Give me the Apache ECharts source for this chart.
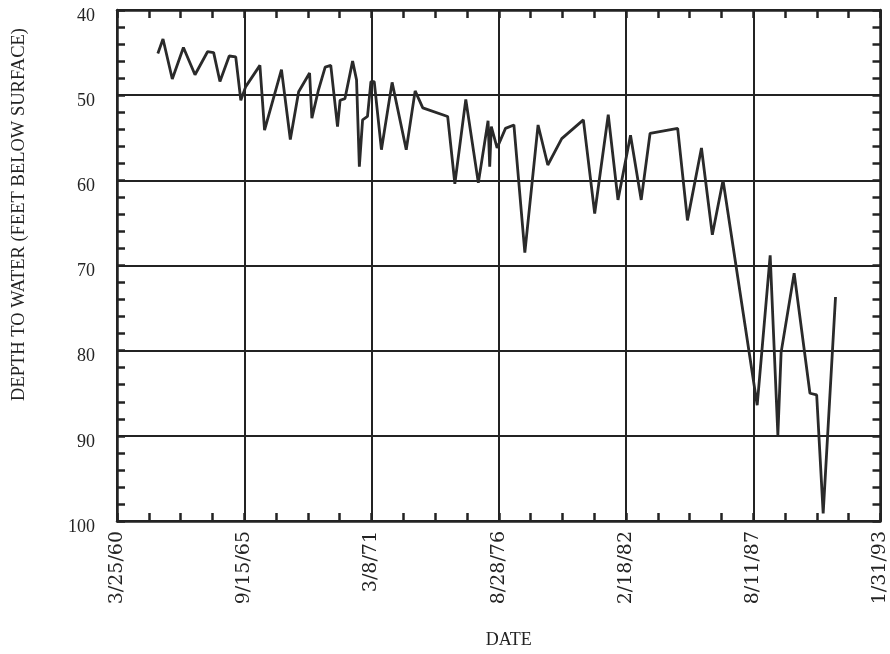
<!DOCTYPE html>
<html>
<head>
<meta charset="utf-8">
<script src="https://cdn.jsdelivr.net/npm/echarts@6/dist/echarts.min.js"></script>
<style>
  html, body { margin: 0; padding: 0; background: #ffffff; }
  #chart { width: 890px; height: 654px; }
</style>
</head>
<body>
<div id="chart"></div>
<script>
// Measurement dates of the well
const dates = [
  '1961-12-27','1962-03-18','1962-08-11','1963-02-02','1963-08-03','1964-02-16','1964-05-22','1964-08-29',
  '1965-01-22','1965-05-04','1965-07-23','1965-10-08','1966-05-19','1966-07-31','1967-04-23','1967-09-09',
  '1968-01-18','1968-07-08','1968-08-13','1968-11-24','1969-03-10','1969-06-06','1969-09-20','1969-10-30',
  '1970-01-15','1970-05-15','1970-07-16','1970-08-29','1970-10-19','1971-01-04','1971-02-27','1971-04-20',
  '1971-08-11','1972-01-26','1972-09-04','1973-01-22','1973-05-22','1974-06-17','1974-10-08','1975-03-29',
  '1975-10-12','1976-03-13','1976-04-08','1976-05-03','1976-08-02','1976-12-12','1977-04-23','1977-10-12',
  '1978-05-08','1978-10-08','1979-05-15','1980-04-19','1980-10-14','1981-05-15','1981-10-15','1982-04-30',
  '1982-10-15','1983-03-03','1984-05-10','1984-10-11','1985-05-19','1985-11-06','1986-04-23','1987-10-12',
  '1988-05-03','1988-09-01','1988-10-22','1989-05-15','1990-01-18','1990-05-04','1990-08-14','1991-02-24'
];

// Depth to water, feet below land surface
const depths = [
  45.1, 43.4, 48.1, 44.4, 47.6, 44.9, 45.0, 48.4,
  45.4, 45.5, 50.6, 49.0, 46.5, 54.1, 47.0, 55.2,
  49.6, 47.4, 52.7, 49.4, 46.7, 46.5, 53.7, 50.6,
  50.4, 46.0, 48.2, 58.4, 52.9, 52.5, 48.4, 48.4,
  56.4, 48.5, 56.4, 49.5, 51.5, 52.5, 60.4, 50.5,
  60.3, 53.0, 58.4, 53.7, 56.2, 53.9, 53.5, 68.5,
  53.5, 58.2, 55.1, 52.9, 63.9, 52.3, 62.3, 54.7,
  62.3, 54.5, 53.9, 64.7, 56.2, 66.4, 60.0, 86.4,
  68.8, 89.9, 80.2, 70.9, 85.0, 85.2, 99.1, 73.7
];

// Date axis: days counted from the first tick date, ticks every 2000 days
const axisStart = '1960-03-25';
const axisSpanDays = 12000;
const tickStepDays = 2000;

// Depth axis
const depthMin = 40;
const depthMax = 100;
const depthStep = 10;

const DAY = 86400000;
const t0 = Date.parse(axisStart + 'T00:00:00Z');
const toDays = s => (Date.parse(s + 'T00:00:00Z') - t0) / DAY;
const fmtDate = v => {
  const d = new Date(t0 + Math.round(v) * DAY);
  return (d.getUTCMonth() + 1) + '/' + d.getUTCDate() + '/' + String(d.getUTCFullYear()).slice(2);
};

const points = dates.map((s, i) => [toDays(s), depths[i]]);

const ink = '#232323';
const serif = '"Liberation Serif", "Times New Roman", serif';

const frameLine = { show: true, onZero: false, lineStyle: { color: ink, width: 2.5 } };
const gridLine = { show: true, lineStyle: { color: ink, width: 2 } };
const innerTick = { show: true, inside: true, length: 8, lineStyle: { color: ink, width: 2.5 } };
const minor = n => ({ show: true, splitNumber: n, length: 8, lineStyle: { color: ink, width: 2.5 } });

const chart = echarts.init(document.getElementById('chart'), null, { renderer: 'canvas' });

chart.setOption({
  backgroundColor: '#ffffff',
  animation: false,
  grid: { left: 117, right: 5, top: 10, bottom: 133, containLabel: false },
  xAxis: [
    {
      type: 'value',
      position: 'bottom',
      min: 0, max: axisSpanDays, interval: tickStepDays,
      name: 'DATE',
      nameLocation: 'middle',
      nameGap: 110,
      nameTextStyle: { fontFamily: serif, fontSize: 18, color: ink, padding: [0, 0, 0, 20] },
      axisLine: frameLine,
      axisTick: innerTick,
      minorTick: minor(4),
      splitLine: gridLine,
      axisLabel: {
        rotate: 90, margin: 10, showMinLabel: true, showMaxLabel: true,
        fontFamily: '"DejaVu Serif", serif', fontSize: 19, color: ink,
        formatter: fmtDate
      }
    },
    {
      type: 'value',
      position: 'top',
      min: 0, max: axisSpanDays, interval: tickStepDays,
      axisLine: frameLine,
      axisTick: innerTick,
      minorTick: minor(4),
      splitLine: { show: false },
      axisLabel: { show: false }
    }
  ],
  yAxis: [
    {
      type: 'value',
      position: 'left',
      inverse: true,
      min: depthMin, max: depthMax, interval: depthStep,
      axisLine: frameLine,
      axisTick: innerTick,
      minorTick: minor(5),
      splitLine: gridLine,
      axisLabel: {
        margin: 22, fontFamily: serif, fontSize: 18, color: ink,
        verticalAlign: 'top', lineHeight: 12
      }
    },
    {
      type: 'value',
      position: 'right',
      inverse: true,
      min: depthMin, max: depthMax, interval: depthStep,
      axisLine: frameLine,
      axisTick: innerTick,
      minorTick: minor(5),
      splitLine: { show: false },
      axisLabel: { show: false }
    }
  ],
  graphic: [
    {
      type: 'text',
      left: 10,
      top: 28,
      rotation: Math.PI / 2,
      style: {
        text: 'DEPTH TO WATER (FEET BELOW SURFACE)',
        fontFamily: serif, fontSize: 18.5, fill: ink
      }
    }
  ],
  series: [
    {
      type: 'line',
      xAxisIndex: 0,
      yAxisIndex: 0,
      data: points,
      showSymbol: false,
      symbol: 'none',
      lineStyle: { color: '#2a2a2a', width: 2.8 },
      z: 5
    }
  ]
});
</script>
</body>
</html>
